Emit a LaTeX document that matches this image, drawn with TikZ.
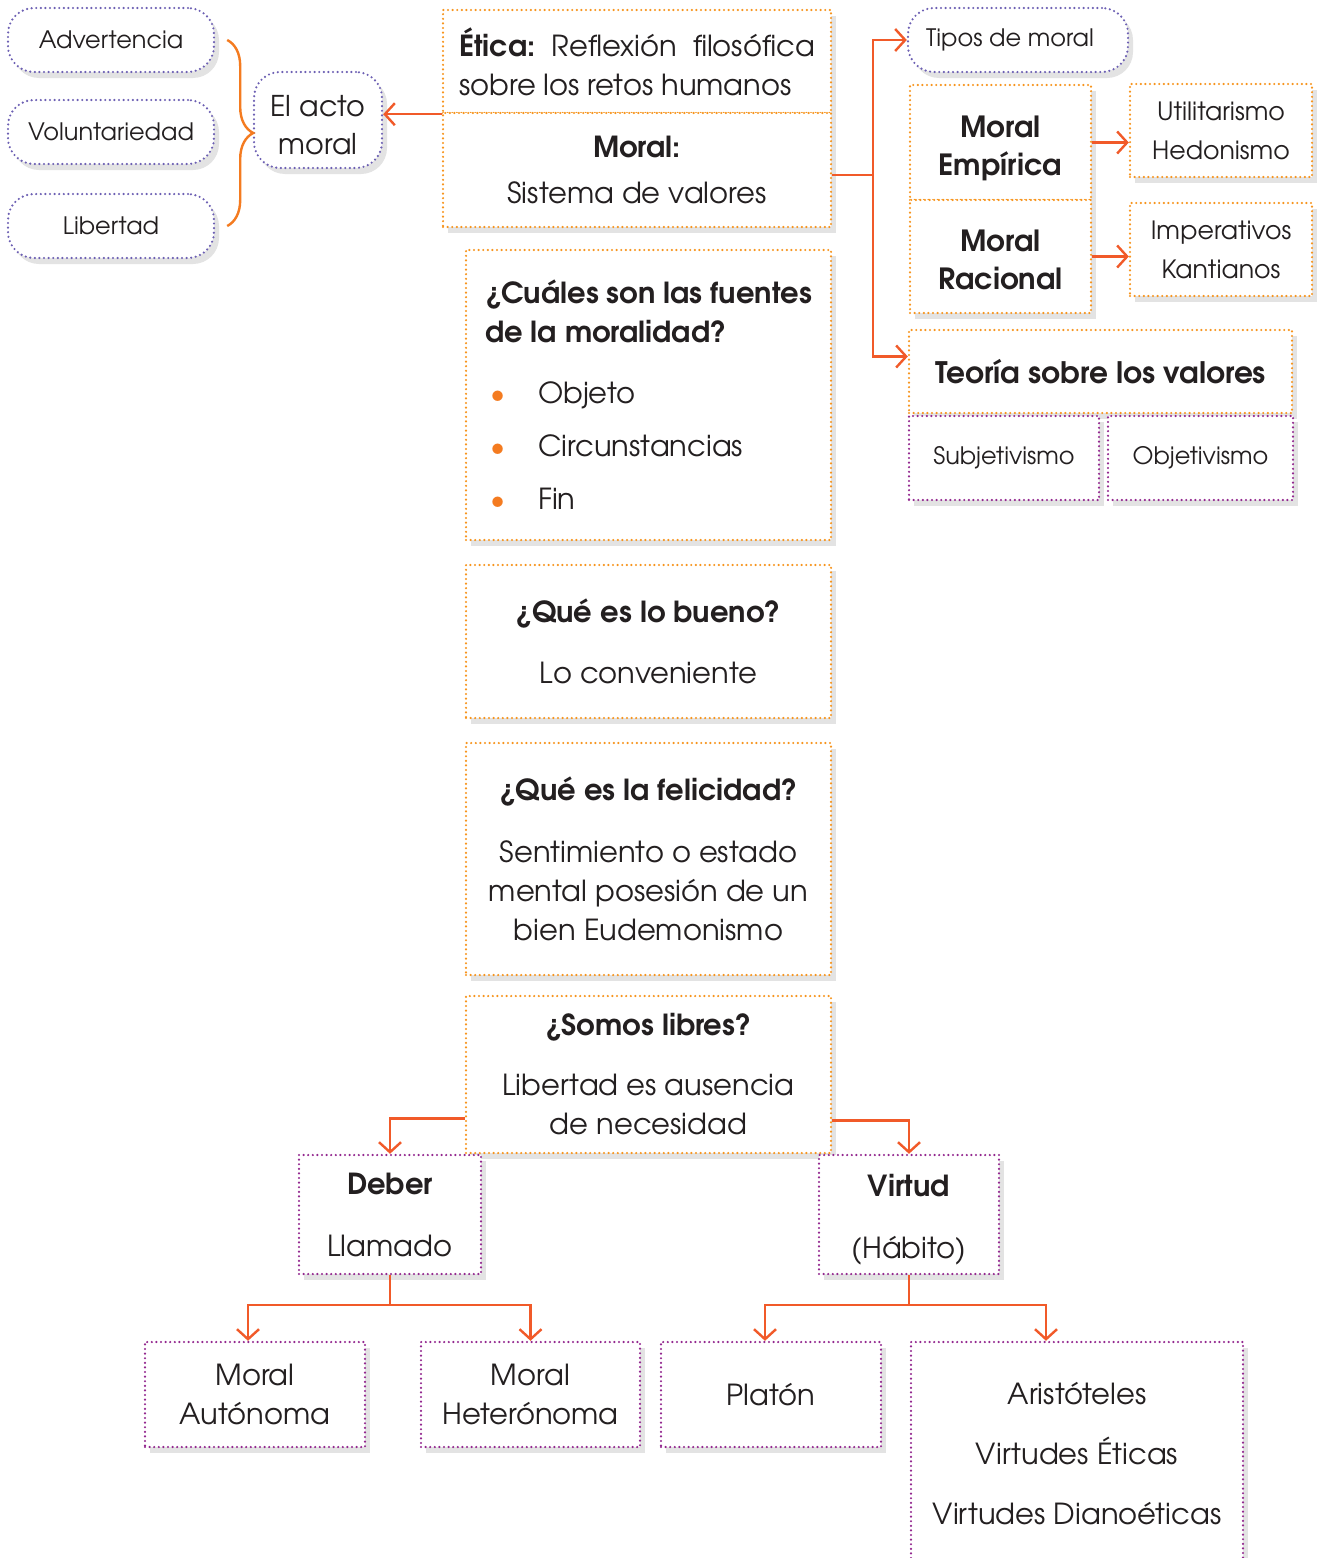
\documentclass[tikz,border=0pt]{standalone}
\usepackage{fontspec}
\setmainfont{texgyreadventor}[Extension=.otf, UprightFont=*-regular, BoldFont=*-bold, ItalicFont=*-italic, BoldItalicFont=*-bolditalic]
\usepackage{xcolor}
\usepackage{tikz}
\usetikzlibrary{arrows.meta, shadows, decorations.pathreplacing}

\definecolor{dotor}{HTML}{F7941D}
\definecolor{dotbl}{HTML}{6C5FB3}
\definecolor{dotpu}{HTML}{93278F}
\definecolor{linkc}{HTML}{F15A29}
\definecolor{bracec}{HTML}{F47B20}
\definecolor{inkc}{HTML}{231F20}

\newcommand{\txt}{\fontsize{14.5}{19.5}\selectfont}
\newcommand{\sml}{\fontsize{12}{19}\selectfont}
\newcommand{\itm}[1]{\makebox[26.5pt][l]{\hspace{2.5pt}\textcolor{bracec}{\textbullet}}#1}
\newcommand{\lift}[1]{\rule{0pt}{#1}}

\begin{document}
\begin{tikzpicture}[x=0.5pt, y=-0.5pt, font=\txt, text=inkc,
    box/.style={draw=dotor, line width=1.2pt, dash pattern=on 0pt off 2.3pt, line cap=round,
        fill=white, inner sep=0pt, align=center,
        drop shadow={opacity=0.22, shadow xshift=2.5pt, shadow yshift=-3pt}},
    pbox/.style={box, draw=dotpu},
    pill/.style={box, draw=dotbl, rounded corners=13pt},
    pillw/.style={pill, minimum width=103pt, minimum height=32pt, font=\sml},
    link/.style={draw=linkc, line width=1.2pt, -{Straight Barb[length=5pt, width=11pt]}},
    wire/.style={draw=linkc, line width=1.2pt},
    brace/.style={draw=bracec, line width=1.2pt, decorate, decoration={brace, amplitude=13pt}}]
    \useasboundingbox (0,0) rectangle (1325,1558);
    \fill[white] (0,0) rectangle (1325,1558);
    \clip (0,0) rectangle (1325,1558);

    \node[pillw] (advert) at (111,40)  {Advertencia};
    \node[pillw] (volun)  at (111,132) {Voluntariedad};
    \node[pillw] (liber)  at (111,226) {Libertad};
    \node[pill, minimum width=64pt, minimum height=48pt, font=\fontsize{14.3}{19}\selectfont] (acto) at (318,120) {\lift{15.6pt}El acto\\ moral};

    \node[box, minimum width=194pt, minimum height=51.5pt, align=left] (etica) at (637,61.5)
        {\textbf{Ética:}\ \ Reflexión\ \ filosófica\\ sobre los retos humanos};
    \node[box, minimum width=194pt, minimum height=57pt] (moral) at (637,170)
        {\textbf{Moral:}\\[3.5pt] Sistema de valores};
    \node[box, minimum width=182.5pt, minimum height=145pt, align=left] (fuentes) at (648.5,395)
        {\textbf{¿Cuáles son las fuentes}\\ \textbf{de la moralidad?}\\[11pt]
         \itm{Objeto}\\[7pt] \itm{Circunstancias}\\[7pt] \itm{Fin}};
    \node[box, minimum width=182.5pt, minimum height=76.5pt] (bueno) at (648.5,641.5)
        {\textbf{¿Qué es lo bueno?}\\[11pt] Lo conveniente};
    \node[box, minimum width=182.5pt, minimum height=116pt] (felicidad) at (648.5,859)
        {\textbf{¿Qué es la felicidad?}\\[11.5pt] Sentimiento o estado\\ mental posesión de un\\ bien Eudemonismo};
    \node[box, minimum width=182.5pt, minimum height=78.5pt] (somos) at (648.5,1074.5)
        {\textbf{¿Somos libres?}\\[10.5pt] Libertad es ausencia\\ de necesidad};

    \node[pill, minimum width=110pt, minimum height=32pt, font=\sml] (tipos) at (1018,40) {Tipos de moral\hspace*{8pt}};
    \node[box, minimum width=90.5pt, minimum height=57.5pt, font=\bfseries\fontsize{14.6}{19}\selectfont] (empirica) at (1000.5,142.5) {\lift{16.8pt}Moral\\ Empírica};
    \node[box, minimum width=90.5pt, minimum height=56.5pt, font=\bfseries\fontsize{14.6}{19}\selectfont] (racional) at (1000.5,256.5) {\lift{13.8pt}Moral\\ Racional};
    \node[box, minimum width=91pt, minimum height=46.5pt, font=\fontsize{12.6}{19.5}\selectfont] (util) at (1221,130.5) {Utilitarismo\\ Hedonismo};
    \node[box, minimum width=91pt, minimum height=46.5pt, font=\fontsize{12.6}{19.5}\selectfont] (imper) at (1221,249.5) {Imperativos\\ Kantianos};
    \node[box, minimum width=191.5pt, minimum height=41.5pt, font=\bfseries\fontsize{14.8}{19.5}\selectfont] (teoria) at (1100.5,371.5) {Teoría sobre los valores};
    \node[pbox, minimum width=95pt, minimum height=42pt, font=\sml] (subj) at (1004,458) {Subjetivismo};
    \node[pbox, minimum width=92.5pt, minimum height=42pt, font=\sml] (obj) at (1200.5,458) {Objetivismo};

    \node[pbox, minimum width=91pt, minimum height=59.5pt] (deber) at (390,1214.5) {\textbf{Deber}\\[11.5pt] Llamado};
    \node[pbox, minimum width=90pt, minimum height=59.5pt] (virtud) at (909,1214.5) {\lift{15.8pt}\textbf{Virtud}\\[11.5pt] (Hábito)};
    \node[pbox, minimum width=110pt, minimum height=52.5pt] (autonoma) at (255,1394.5) {Moral\\ Autónoma};
    \node[pbox, minimum width=109.5pt, minimum height=52.5pt] (hetero) at (530.5,1394.5) {Moral\\ Heterónoma};
    \node[pbox, minimum width=110pt, minimum height=52.5pt] (platon) at (771,1394.5) {Platón};
    \node[pbox, minimum width=166pt, minimum height=112pt] (arist) at (1077,1454)
        {Aristóteles\\[10.5pt] Virtudes Éticas\\[10.5pt] Virtudes Dianoéticas};

    \draw[brace] ([xshift=6pt]advert.east) -- ([xshift=6pt]liber.east);
    \draw[link] (etica.south west) -- (acto.east |- etica.south west);

    \coordinate (trunk) at (873,175);
    \draw[wire] (moral.east |- trunk) -- (trunk);
    \draw[link] (trunk) |- (tipos.west);
    \draw[link] (trunk) |- ([yshift=7.5pt]teoria.west);
    \draw[link] (empirica.east) -- (util.west |- empirica.east);
    \draw[link] (racional.east) -- (imper.west |- racional.east);

    \draw[link] ([yshift=-22pt]somos.west) -| (deber.north);
    \draw[link] ([yshift=-23pt]somos.east) -| (virtud.north);

    \coordinate (dfork) at (391,1305);
    \draw[wire] (deber.south) -- (deber.south |- dfork);
    \draw[link] (deber.south |- dfork) -| ([xshift=-3.5pt]autonoma.north);
    \draw[link] (deber.south |- dfork) -| (hetero.north);
    \coordinate (vfork) at (908,1305);
    \draw[wire] (virtud.south) -- (virtud.south |- vfork);
    \draw[link] (virtud.south |- vfork) -| ([xshift=-3pt]platon.north);
    \draw[link] (virtud.south |- vfork) -| ([xshift=-15.5pt]arist.north);
\end{tikzpicture}
\end{document}
